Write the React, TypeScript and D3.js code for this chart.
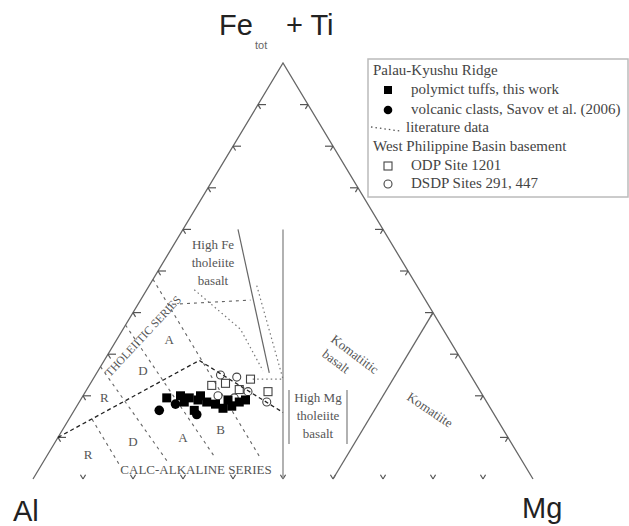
import * as d3 from 'd3'
import { useEffect, useRef } from 'react'

// cation % as [Al, Fe+Ti, Mg]
const tuffs = [
  [63.5, 19.5, 17], [60.5, 20, 19.5], [59, 19.5, 21.5], [57.5, 19, 23.5],
  [59.5, 16.5, 24], [56, 18.5, 25.5], [54.5, 18, 27.5], [53.5, 17, 29.5],
  [51.5, 17.5, 31], [49.5, 18.5, 32], [48, 19, 33], [60.5, 18.5, 21],
  [56.5, 20, 23.5], [51.5, 19, 29.5]
]
const clasts = [[66.5, 16.5, 17], [62.5, 18, 19.5], [59.5, 15.5, 25]]
const odp1201 = [[53, 22.5, 24.5], [50, 23, 27], [48, 21.5, 30.5], [42.5, 21, 36.5], [44.5, 24, 31.5]]
const dsdp = [[53, 20, 27], [50, 19.5, 30.5], [46.5, 21, 32.5], [44, 18.5, 37.5], [50, 25, 25], [47, 24.5, 28.5]]

// field boundaries (Jensen plot)
const thCaBoundary = [[90, 10, 0], [52.5, 28.5, 19], [42, 16, 42]]
const dashedBounds = [
  [[81, 14.4, 4.6], [81, 3, 16]],
  [[73, 27, 0], [71, 4, 25]],
  [[63, 37, 0], [61, 5, 34]],
  [[52, 48, 0], [52, 5, 43]],
  [[51, 42, 7], [35, 43, 22]]
]
const hftLine = [[29, 60, 11], [40, 25.5, 34.5]]
const thMgLine = [[20, 60, 20], [50, 0, 50]]
const komLine = [[0, 40, 60], [40, 0, 60]]
const litFields = [
  [[32, 46.5, 21.5], [38, 24, 38], [44.5, 24, 31.5]],
  [[45, 45.5, 9.5], [40.5, 36, 23.5], [41, 26, 33]]
]
const fieldLetters = [
  ['R', [76, 19.5, 4.5]], ['D', [65, 26, 9]], ['A', [56, 33.5, 10.5]],
  ['R', [86, 6, 8]], ['D', [75.5, 9, 15.5]], ['A', [65, 10, 25]], ['B', [56.5, 12, 31.5]]
]
const tickVals = [10, 20, 30, 40, 50, 60, 70, 80, 90]

function makeChart(svgEl) {
  const svg = d3.select(svgEl)
  svg.selectAll('*').remove()

  const scX = d3.scaleLinear().domain([0, 100]).range([33, 533])
  const scY = d3.scaleLinear().domain([0, 100]).range([479, 63])
  const px = p => [scX(p[2] + p[1] / 2), scY(p[1])]
  const line = d3.line().x(d => px(d)[0]).y(d => px(d)[1])

  const A = px([100, 0, 0]), F = px([0, 100, 0]), M = px([0, 0, 100])
  const len = Math.hypot(M[0] - F[0], M[1] - F[1])
  const ux = (M[0] - F[0]) / len, uy = (M[1] - F[1]) / len

  // triangle sides
  svg.append('path').attr('d', d3.line()([A, F, M]))
    .attr('fill', 'none').attr('stroke', '#666').attr('stroke-width', 1.3)

  // ticks
  const tk = svg.append('g').attr('stroke', '#555').attr('stroke-width', 1.2)
  tickVals.forEach(k => {
    const L = px([100 - k, k, 0]), R = px([0, k, 100 - k]), B = px([100 - k, 0, k])
    tk.append('line').attr('x1', L[0]).attr('y1', L[1]).attr('x2', L[0] + 8).attr('y2', L[1])
    tk.append('line').attr('x1', L[0]).attr('y1', L[1]).attr('x2', L[0] + 5 * ux).attr('y2', L[1] + 5 * uy)
    tk.append('line').attr('x1', R[0]).attr('y1', R[1]).attr('x2', R[0] - 8).attr('y2', R[1])
    tk.append('line').attr('x1', R[0]).attr('y1', R[1]).attr('x2', R[0] - 5 * ux).attr('y2', R[1] + 5 * uy)
    tk.append('line').attr('x1', B[0]).attr('y1', B[1]).attr('x2', B[0] - 5 * ux).attr('y2', B[1] - 5 * uy)
    tk.append('line').attr('x1', B[0]).attr('y1', B[1]).attr('x2', B[0] + 5 * ux).attr('y2', B[1] - 5 * uy)
  })

  // field lines
  svg.append('path').attr('d', line(thMgLine)).attr('fill', 'none').attr('stroke', '#888').attr('stroke-width', 1.3)
  svg.append('path').attr('d', line(komLine)).attr('fill', 'none').attr('stroke', '#666').attr('stroke-width', 1.3)
  svg.append('path').attr('d', line(hftLine)).attr('fill', 'none').attr('stroke', '#666').attr('stroke-width', 1.2)
  dashedBounds.forEach(b => {
    svg.append('path').attr('d', line(b)).attr('fill', 'none')
      .attr('stroke', '#666').attr('stroke-width', 1.1).attr('stroke-dasharray', '3,4')
  })
  svg.append('path').attr('d', line(thCaBoundary)).attr('fill', 'none')
    .attr('stroke', '#222').attr('stroke-width', 1.3).attr('stroke-dasharray', '4,3')
  litFields.forEach(f => {
    svg.append('path').attr('d', line(f)).attr('fill', 'none')
      .attr('stroke', '#777').attr('stroke-width', 1.2).attr('stroke-dasharray', '1.5,3')
  })

  // field labels
  const lab = svg.append('g').attr('font-family', 'Liberation Serif').attr('font-size', 13).attr('fill', '#555')
  fieldLetters.forEach(([t, p]) => {
    const q = px(p)
    lab.append('text').attr('x', q[0]).attr('y', q[1] + 4.5).attr('text-anchor', 'middle').text(t)
  })
  lab.append('text').attr('x', 196).attr('y', 474).attr('text-anchor', 'middle').text('CALC-ALKALINE SERIES')
  lab.append('text').attr('transform', 'translate(143,336) rotate(-47)').attr('y', 4)
    .attr('text-anchor', 'middle').attr('font-size', 11.5).text('THOLEIITIC SERIES')
  ;['High Fe', 'tholeiite', 'basalt'].forEach((t, i) => {
    lab.append('text').attr('x', 213).attr('y', 249 + i * 18).attr('text-anchor', 'middle').text(t)
  })
  ;['High Mg', 'tholeiite', 'basalt'].forEach((t, i) => {
    lab.append('text').attr('x', 318).attr('y', 402 + i * 18).attr('text-anchor', 'middle').text(t)
  })
  svg.append('line').attr('x1', 289).attr('y1', 390).attr('x2', 289).attr('y2', 444).attr('stroke', '#888').attr('stroke-width', 1.3)
  svg.append('line').attr('x1', 347).attr('y1', 390).attr('x2', 347).attr('y2', 444).attr('stroke', '#888').attr('stroke-width', 1.3)
  const kb = lab.append('g').attr('transform', 'translate(330,341) rotate(37)')
  kb.append('text').text('Komatiitic')
  kb.append('text').attr('x', 2).attr('y', 17).text('basalt')
  lab.append('text').attr('transform', 'translate(406,399) rotate(34)').text('Komatiite')

  // data
  const sq = 9
  svg.append('g').selectAll('rect').data(odp1201).enter().append('rect')
    .attr('x', d => px(d)[0] - 4).attr('y', d => px(d)[1] - 4).attr('width', 8).attr('height', 8)
    .attr('fill', 'none').attr('stroke', '#444').attr('stroke-width', 1.1)
  svg.append('g').selectAll('circle').data(dsdp).enter().append('circle')
    .attr('cx', d => px(d)[0]).attr('cy', d => px(d)[1]).attr('r', 4)
    .attr('fill', 'none').attr('stroke', '#444').attr('stroke-width', 1.1)
  svg.append('g').selectAll('rect').data(tuffs).enter().append('rect')
    .attr('x', d => px(d)[0] - sq / 2).attr('y', d => px(d)[1] - sq / 2).attr('width', sq).attr('height', sq)
    .attr('fill', '#000')
  svg.append('g').selectAll('circle').data(clasts).enter().append('circle')
    .attr('cx', d => px(d)[0]).attr('cy', d => px(d)[1]).attr('r', 4.8).attr('fill', '#000')

  // apex labels
  const ax = svg.append('g').attr('font-family', 'Liberation Sans').attr('fill', '#222')
  ax.append('text').attr('x', 219).attr('y', 35).attr('font-size', 29).text('Fe')
  ax.append('text').attr('x', 255).attr('y', 49).attr('font-size', 11).attr('fill', '#666').text('tot')
  ax.append('text').attr('x', 286).attr('y', 35).attr('font-size', 29).text('+ Ti')
  ax.append('text').attr('x', 13).attr('y', 521).attr('font-size', 29).text('Al')
  ax.append('text').attr('x', 522).attr('y', 518).attr('font-size', 29).text('Mg')

  // legend
  const lg = svg.append('g').attr('font-family', 'Liberation Serif').attr('font-size', 15).attr('fill', '#444')
  lg.append('rect').attr('x', 368).attr('y', 59).attr('width', 260).attr('height', 138)
    .attr('fill', '#fff').attr('stroke', '#bbb').attr('stroke-width', 1.5)
  lg.append('text').attr('x', 373).attr('y', 75).text('Palau-Kyushu Ridge')
  lg.append('rect').attr('x', 384).attr('y', 86).attr('width', 8).attr('height', 8).attr('fill', '#000')
  lg.append('text').attr('x', 411).attr('y', 94).text('polymict tuffs, this work')
  lg.append('circle').attr('cx', 388).attr('cy', 110).attr('r', 4.3).attr('fill', '#000')
  lg.append('text').attr('x', 411).attr('y', 114).text('volcanic clasts, Savov et al. (2006)')
  lg.append('path').attr('d', 'M371,127 L400,131').attr('stroke', '#555').attr('stroke-width', 1.3)
    .attr('stroke-dasharray', '1.5,3').attr('fill', 'none')
  lg.append('text').attr('x', 406).attr('y', 132).text('literature data')
  lg.append('text').attr('x', 373).attr('y', 151).text('West Philippine Basin basement')
  lg.append('rect').attr('x', 384).attr('y', 162).attr('width', 8).attr('height', 8)
    .attr('fill', 'none').attr('stroke', '#444').attr('stroke-width', 1.1)
  lg.append('text').attr('x', 411).attr('y', 170).text('ODP Site 1201')
  lg.append('circle').attr('cx', 388).attr('cy', 184).attr('r', 4)
    .attr('fill', 'none').attr('stroke', '#444').attr('stroke-width', 1.1)
  lg.append('text').attr('x', 411).attr('y', 188).text('DSDP Sites 291, 447')
}

export default function App() {
  const ref = useRef(null)
  useEffect(() => {
    makeChart(ref.current)
  })
  return (
    <svg ref={ref} width="629" height="526"
      style={{ position: 'absolute', left: 0, top: 0, background: '#fff' }}>
    </svg>
  )
}
